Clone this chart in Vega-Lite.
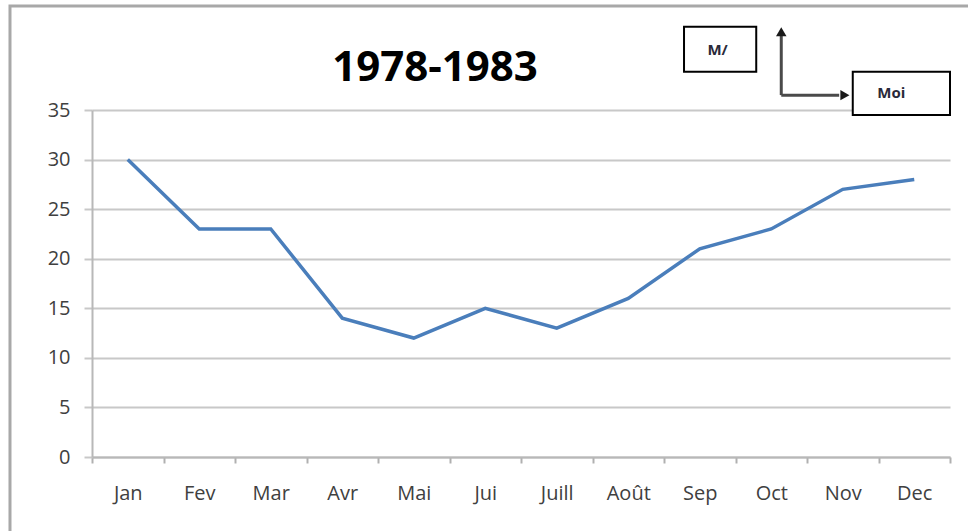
{
  "$schema": "https://vega.github.io/schema/vega-lite/v6.json",
  "width": 858,
  "height": 347,
  "autosize": {"type": "none"},
  "padding": {"left": 92, "top": 110, "right": 18, "bottom": 74},
  "background": "white",
  "config": {"view": {"stroke": null}, "font": "Open Sans"},
  "title": {
    "text": "1978-1983",
    "font": "Open Sans",
    "fontSize": 42,
    "fontWeight": "bold",
    "color": "#000000",
    "frame": "group",
    "anchor": "middle",
    "baseline": "alphabetic",
    "dx": -86,
    "offset": -119
  },
  "datasets": {
    "temps": [
      {"mois": "Jan", "valeur": 30},
      {"mois": "Fev", "valeur": 23},
      {"mois": "Mar", "valeur": 23},
      {"mois": "Avr", "valeur": 14},
      {"mois": "Mai", "valeur": 12},
      {"mois": "Jui", "valeur": 15},
      {"mois": "Juill", "valeur": 13},
      {"mois": "Août", "valeur": 16},
      {"mois": "Sep", "valeur": 21},
      {"mois": "Oct", "valeur": 23},
      {"mois": "Nov", "valeur": 27},
      {"mois": "Dec", "valeur": 28}
    ],
    "frame": [{"x1": -0.647, "x2": 13.5, "y1": 45.5, "y2": -9}],
    "boxes": [
      {"label": "M/", "x1": 8.78, "x2": 9.79, "y1": 38.85, "y2": 43.4, "tx": 9.25, "ty": 41.1},
      {"label": "Moi", "x1": 11.14, "x2": 12.5, "y1": 34.5, "y2": 38.85, "tx": 11.68, "ty": 36.7}
    ],
    "arrows": [
      {"x1": 10.14, "x2": 10.14, "y1": 36.5, "y2": 42.6},
      {"x1": 10.14, "x2": 10.95, "y1": 36.5, "y2": 36.5}
    ],
    "heads": [
      {"dir": "up", "x": 10.14, "y": 42.9},
      {"dir": "right", "x": 11.03, "y": 36.5}
    ]
  },
  "layer": [
    {
      "data": {"name": "temps"},
      "mark": {"type": "line", "color": "#4a7ebb", "strokeWidth": 3.5},
      "encoding": {
        "x": {
          "field": "mois",
          "type": "ordinal",
          "sort": null,
          "scale": {"type": "band", "paddingInner": 0, "paddingOuter": 0},
          "axis": {
            "title": null,
            "labelAngle": 0,
            "tickBand": "extent",
            "ticks": true,
            "tickSize": 6,
            "tickColor": "#b0b0b0",
            "tickWidth": 2,
            "domainColor": "#b8b8b8",
            "domainWidth": 2,
            "labelPadding": 20,
            "labelFontSize": 20,
            "labelColor": "#404040",
            "labelFont": "Open Sans",
            "grid": false
          }
        },
        "y": {
          "field": "valeur",
          "type": "quantitative",
          "scale": {"domain": [0, 35], "nice": false},
          "axis": {
            "title": null,
            "values": [0, 5, 10, 15, 20, 25, 30, 35],
            "grid": true,
            "gridColor": "#c8c8c8",
            "gridWidth": 2,
            "domainColor": "#b8b8b8",
            "domainWidth": 2,
            "tickColor": "#c8c8c8",
            "tickWidth": 2,
            "tickSize": 8,
            "labelPadding": 14,
            "labelFontSize": 20,
            "labelColor": "#404040",
            "labelFont": "Open Sans"
          }
        }
      }
    },
    {
      "data": {"name": "frame"},
      "mark": {"type": "rect", "fill": null, "stroke": "#a8a8a8", "strokeWidth": 3, "clip": false},
      "encoding": {
        "x": {"field": "x1", "type": "quantitative", "scale": {"domain": [0.5, 12.5], "nice": false, "zero": false}, "axis": null},
        "x2": {"field": "x2"},
        "y": {"field": "y1", "type": "quantitative"},
        "y2": {"field": "y2"}
      }
    },
    {
      "data": {"name": "boxes"},
      "mark": {"type": "rect", "fill": "white", "stroke": "#000000", "strokeWidth": 2},
      "encoding": {
        "x": {"field": "x1", "type": "quantitative", "scale": {"domain": [0.5, 12.5], "nice": false, "zero": false}, "axis": null},
        "x2": {"field": "x2"},
        "y": {"field": "y1", "type": "quantitative"},
        "y2": {"field": "y2"}
      }
    },
    {
      "data": {"name": "boxes"},
      "mark": {"type": "text", "font": "Open Sans", "fontSize": 15, "fontWeight": "bold", "color": "#2a2a3a", "align": "center", "baseline": "middle"},
      "encoding": {
        "text": {"field": "label"},
        "x": {"field": "tx", "type": "quantitative", "scale": {"domain": [0.5, 12.5], "nice": false, "zero": false}, "axis": null},
        "y": {"field": "ty", "type": "quantitative"}
      }
    },
    {
      "data": {"name": "arrows"},
      "mark": {"type": "rule", "color": "#4a4a4a", "strokeWidth": 3},
      "encoding": {
        "x": {"field": "x1", "type": "quantitative", "scale": {"domain": [0.5, 12.5], "nice": false, "zero": false}, "axis": null},
        "x2": {"field": "x2"},
        "y": {"field": "y1", "type": "quantitative"},
        "y2": {"field": "y2"}
      }
    },
    {
      "data": {"name": "heads"},
      "mark": {"type": "point", "filled": true, "color": "#1a1a1a", "size": 110, "opacity": 1},
      "encoding": {
        "x": {"field": "x", "type": "quantitative", "scale": {"domain": [0.5, 12.5], "nice": false, "zero": false}, "axis": null},
        "y": {"field": "y", "type": "quantitative"},
        "shape": {"field": "dir", "type": "nominal", "scale": {"domain": ["up", "right"], "range": ["triangle-up", "triangle-right"]}, "legend": null}
      }
    }
  ],
  "resolve": {"scale": {"x": "independent"}, "axis": {"x": "independent"}}
}
